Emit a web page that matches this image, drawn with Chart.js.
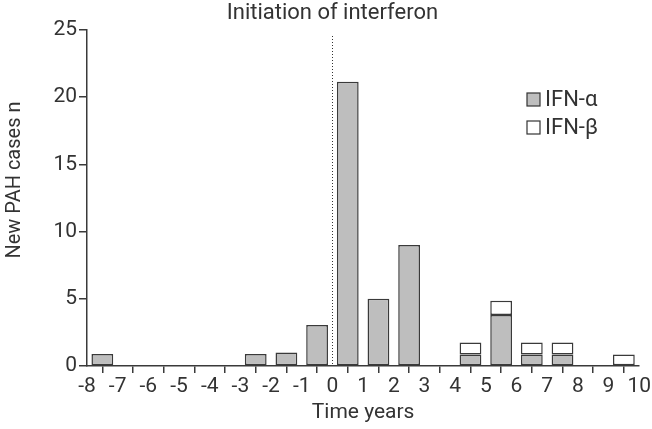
<!DOCTYPE html>
<html>
<head>
<meta charset="utf-8">
<script src="https://cdn.jsdelivr.net/npm/chart.js@4"></script>
<style>
  html, body { margin: 0; padding: 0; background: #fff; }
  #wrap { width: 652px; height: 429px; }
</style>
</head>
<body>
<div id="wrap"><canvas id="myChart"></canvas></div>
<script>
'use strict';

// bar centres, in years from the start of interferon
let yearMid = [-7.5, -2.5, -1.5, -0.5, 0.5, 1.5, 2.5, 4.5, 5.5, 6.5, 7.5, 9.5];
let ifnAlpha = [0.9, 0.9, 1, 3.05, 21.15, 5, 9, 0.85, 3.8, 0.85, 0.85, null];
let ifnBeta = [null, null, null, null, null, null, null, 0.9, 1.05, 0.9, 0.9, 0.85];
let yTicks = [0, 5, 10, 15, 20, 25];

let fontName = 'Roboto';
let textColor = '#333';
let axisColor = '#3a3a3a';

function toPoints(values) {
  let pts = [];
  for (let i = 0; i < yearMid.length; i++) {
    pts.push({ x: yearMid[i], y: values[i] });
  }
  return pts;
}

// titles, zero line and legend drawn by hand
const extras = {
  id: 'extras',
  afterDraw(chart) {
    const ctx = chart.ctx;
    const x = chart.scales.x;
    const y = chart.scales.y;
    const area = chart.chartArea;
    const x0 = x.getPixelForValue(0);

    ctx.save();
    ctx.strokeStyle = '#333';
    ctx.lineWidth = 1;
    ctx.setLineDash([1, 2]);
    ctx.beginPath();
    ctx.moveTo(Math.round(x0) + 0.5, 36);
    ctx.lineTo(Math.round(x0) + 0.5, y.getPixelForValue(0));
    ctx.stroke();
    ctx.setLineDash([]);

    ctx.fillStyle = textColor;
    ctx.font = '22px ' + fontName;
    ctx.textAlign = 'center';
    ctx.textBaseline = 'middle';
    ctx.fillText('Initiation of interferon', x0, 13);
    ctx.font = '21px ' + fontName;
    ctx.fillText('Time years', (area.left + area.right) / 2, 413);

    ctx.save();
    ctx.translate(15, 180);
    ctx.rotate(-Math.PI / 2);
    ctx.font = '20px ' + fontName;
    ctx.fillText('New PAH cases n', 0, 0);
    ctx.restore();

    // legend
    const ds = chart.data.datasets;
    for (let i = 0; i < ds.length; i++) {
      const top = 93 + i * 28;
      ctx.fillStyle = ds[i].backgroundColor;
      ctx.fillRect(527, top, 13, 13);
      ctx.strokeStyle = '#333';
      ctx.lineWidth = 1.2;
      ctx.strokeRect(527, top, 13, 13);
      ctx.fillStyle = textColor;
      ctx.textAlign = 'left';
      ctx.font = '22px ' + fontName;
      ctx.fillText(ds[i].label, 545, top + 7);
    }
    ctx.restore();
  }
};

let ctx = document.getElementById('myChart').getContext('2d');
let myChart = new Chart(ctx, {
  type: 'bar',
  data: {
    datasets: [
      {
        label: 'IFN-α',
        data: toPoints(ifnAlpha),
        backgroundColor: '#bebebe',
        borderColor: '#3a3a3a',
        borderWidth: 1.5,
        borderSkipped: false,
        grouped: false,
        barPercentage: 0.71,
        categoryPercentage: 1
      },
      {
        label: 'IFN-β',
        data: toPoints(ifnBeta),
        backgroundColor: '#ffffff',
        borderColor: '#3a3a3a',
        borderWidth: 1.5,
        borderSkipped: false,
        grouped: false,
        barPercentage: 0.71,
        categoryPercentage: 1
      }
    ]
  },
  options: {
    responsive: true,
    maintainAspectRatio: false,
    animation: false,
    layout: { padding: { left: 0, right: 11, top: 30, bottom: 0 } },
    plugins: {
      legend: { display: false },
      tooltip: { enabled: false }
    },
    scales: {
      x: {
        type: 'linear',
        min: -8,
        max: 10,
        offset: false,
        afterFit(scale) { scale.height = 63; },
        ticks: {
          stepSize: 1,
          color: textColor,
          padding: 1,
          font: { family: fontName, size: 21 }
        },
        grid: {
          display: true,
          drawOnChartArea: false,
          drawTicks: true,
          tickLength: 7,
          color: axisColor,
          lineWidth: 1.5
        },
        border: { display: true, color: axisColor, width: 1.5 }
      },
      y: {
        stacked: true,
        min: 0,
        max: 25,
        afterFit(scale) { scale.width = 87; },
        afterBuildTicks(scale) {
          scale.ticks = yTicks.map(v => ({ value: v }));
        },
        ticks: {
          color: textColor,
          padding: 2,
          font: { family: fontName, size: 21 }
        },
        grid: {
          display: true,
          drawOnChartArea: false,
          drawTicks: true,
          tickLength: 8,
          color: axisColor,
          lineWidth: 1.5
        },
        border: { display: true, color: axisColor, width: 1.5 }
      }
    }
  },
  plugins: [extras]
});
</script>
</body>
</html>
